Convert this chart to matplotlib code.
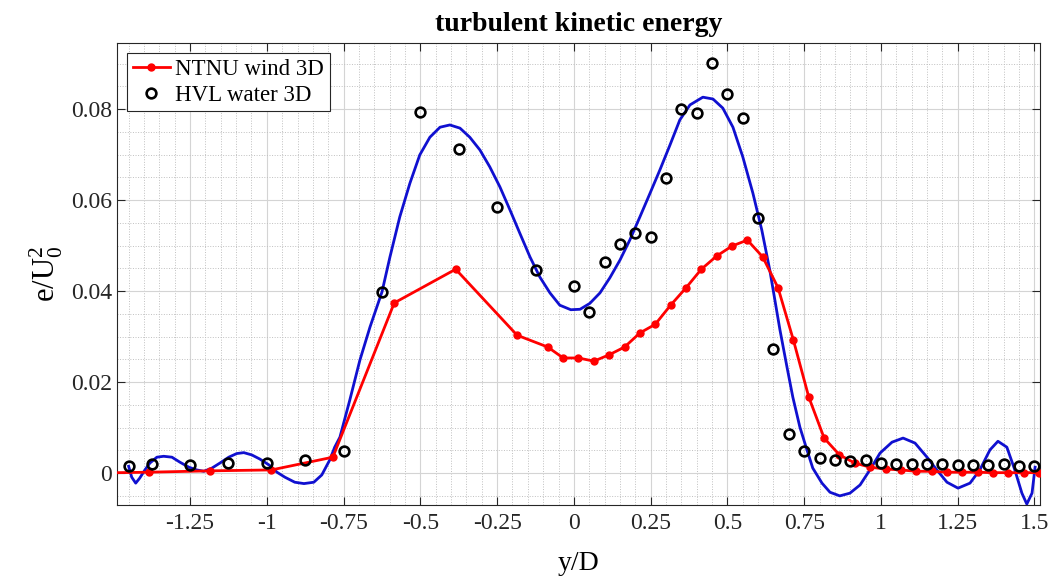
import numpy as np
import matplotlib
matplotlib.use('Agg')
import matplotlib.pyplot as plt
from matplotlib.ticker import MultipleLocator, FuncFormatter

plt.rcParams['font.family'] = ['Liberation Serif', 'DejaVu Serif']
plt.rcParams['mathtext.fontset'] = 'custom'
plt.rcParams['mathtext.rm'] = 'Liberation Serif'
plt.rcParams['mathtext.it'] = 'Liberation Serif:italic'
plt.rcParams['axes.unicode_minus'] = False

# NTNU wind tunnel, 3D downstream
ntnu_y = [-1.585, -1.385, -1.185, -0.985, -0.785, -0.585, -0.385, -0.185, -0.085, -0.035,
          0.015, 0.065, 0.115, 0.165, 0.215, 0.265, 0.315, 0.365, 0.415, 0.465,
          0.515, 0.565, 0.615, 0.665, 0.715, 0.765, 0.815, 0.865, 0.915, 0.965,
          1.015, 1.065, 1.115, 1.165, 1.215, 1.265, 1.315, 1.365, 1.415, 1.465, 1.515]
ntnu_e = [0.0, 0.0002, 0.0005, 0.0007, 0.0035, 0.0374, 0.0448, 0.0303, 0.0277, 0.0253,
          0.0253, 0.0246, 0.0260, 0.0277, 0.0308, 0.0327, 0.0369, 0.0407, 0.0448, 0.0477,
          0.0499, 0.0512, 0.0475, 0.0407, 0.0292, 0.0167, 0.0077, 0.0040, 0.0022, 0.0013,
          0.0009, 0.0007, 0.0004, 0.0004, 0.0002, 0.0002, 0.0002, 0.0001, 0.0001, 0.0001, 0.0001]

# HVL water channel, 3D downstream
hvl_y = [-1.45, -1.375, -1.25, -1.125, -1.0, -0.875, -0.75, -0.625, -0.5, -0.375,
         -0.25, -0.125, 0.0, 0.05, 0.1, 0.15, 0.2, 0.25, 0.3, 0.35,
         0.4, 0.45, 0.5, 0.55, 0.6, 0.65, 0.7, 0.75, 0.8, 0.85,
         0.9, 0.95, 1.0, 1.05, 1.1, 1.15, 1.2, 1.25, 1.3, 1.35,
         1.4, 1.45, 1.5]
hvl_e = [0.0015, 0.0020, 0.0018, 0.0022, 0.0022, 0.0029, 0.0048, 0.0398, 0.0793, 0.0712,
         0.0585, 0.0446, 0.0411, 0.0354, 0.0464, 0.0503, 0.0527, 0.0519, 0.0648, 0.0800,
         0.0791, 0.0901, 0.0833, 0.0780, 0.0560, 0.0273, 0.0086, 0.0048, 0.0033, 0.0029,
         0.0027, 0.0029, 0.0022, 0.0020, 0.0020, 0.0020, 0.0020, 0.0018, 0.0018, 0.0018,
         0.0020, 0.0015, 0.0015]

# fitted curve through the HVL data
fit_y = [-1.45, -1.44, -1.427, -1.414, -1.397, -1.381, -1.358, -1.336, -1.309, -1.283,
         -1.254, -1.228, -1.205, -1.179, -1.153, -1.124, -1.098, -1.075, -1.049, -1.023,
         -0.993, -0.967, -0.941, -0.909, -0.879, -0.847, -0.821, -0.795, -0.779, -0.762,
         -0.73, -0.697, -0.664, -0.625, -0.599, -0.567, -0.534, -0.502, -0.469, -0.436,
         -0.404, -0.371, -0.339, -0.306, -0.274, -0.241, -0.208, -0.176, -0.143, -0.111,
         -0.078, -0.046, -0.01, 0.02, 0.052, 0.085, 0.117, 0.15, 0.182, 0.215,
         0.248, 0.28, 0.313, 0.345, 0.378, 0.42, 0.453, 0.485, 0.518, 0.55,
         0.583, 0.612, 0.638, 0.671, 0.694, 0.713, 0.736, 0.759, 0.778, 0.808,
         0.834, 0.866, 0.899, 0.932, 0.964, 0.997, 1.036, 1.072, 1.111, 1.15,
         1.182, 1.215, 1.251, 1.29, 1.322, 1.355, 1.381, 1.41, 1.436, 1.459,
         1.475, 1.492, 1.502]
fit_e = [0.0015, -0.0009, -0.0022, -0.0011, 0.0007, 0.0022, 0.0035, 0.0037, 0.0035, 0.0024,
         0.0013, 0.0007, 0.0004, 0.0011, 0.0022, 0.0035, 0.0043, 0.0045, 0.0040, 0.0031,
         0.0018, 0.0002, -0.0009, -0.0020, -0.0023, -0.0020, -0.0004, 0.0029, 0.0057, 0.0079,
         0.0160, 0.0248, 0.0321, 0.0398, 0.0475, 0.0563, 0.0637, 0.0699, 0.0738, 0.0760,
         0.0765, 0.0758, 0.0738, 0.0710, 0.0673, 0.0629, 0.0578, 0.0527, 0.0475, 0.0431,
         0.0396, 0.0369, 0.0359, 0.0360, 0.0373, 0.0396, 0.0429, 0.0468, 0.0512, 0.0563,
         0.0615, 0.0666, 0.0721, 0.0776, 0.0809, 0.0826, 0.0822, 0.0802, 0.0760, 0.0695,
         0.0615, 0.0534, 0.0446, 0.0315, 0.0233, 0.0167, 0.0101, 0.0051, 0.0011, -0.0022,
         -0.0042, -0.0050, -0.0044, -0.0026, 0.0007, 0.0044, 0.0068, 0.0077, 0.0066, 0.0035,
         0.0007, -0.0020, -0.0033, -0.0022, 0.0007, 0.0051, 0.0070, 0.0057, 0.0007, -0.0044,
         -0.0068, -0.0044, 0.0013]

fig = plt.figure(figsize=(10.52, 5.76), dpi=100)
ax = fig.add_axes([0.1112, 0.1233, 0.8774, 0.802])

ax.plot(ntnu_y, ntnu_e, '-o', color='#ff0000', lw=2.0, ms=5, label='NTNU wind 3D', zorder=3)
ax.plot(hvl_y, hvl_e, 'o', mfc='none', mec='black', mew=1.9, ms=7, label='HVL water 3D', zorder=4)
ax.plot(fit_y, fit_e, '-', color='#1010d0', lw=2.0, zorder=2, solid_joinstyle='round')

ax.set_xlim(-1.488, 1.518)
ax.set_ylim(-0.007, 0.0945)
ax.xaxis.set_major_locator(MultipleLocator(0.25))
ax.xaxis.set_minor_locator(MultipleLocator(0.05))
ax.yaxis.set_major_locator(MultipleLocator(0.02))
ax.yaxis.set_minor_locator(MultipleLocator(0.005))
fmt = FuncFormatter(lambda v, p: '%g' % round(v, 4))
ax.xaxis.set_major_formatter(fmt)
ax.yaxis.set_major_formatter(fmt)

ax.grid(which='major', color='#d4d4d4', lw=0.8, ls='-')
ax.grid(which='minor', color='#c0c0c0', lw=0.7, ls=':')
ax.set_axisbelow(True)
ax.tick_params(which='both', direction='in', top=True, right=True, labelsize=17, colors='#262626')
ax.tick_params(which='major', length=6, width=0.8)
ax.tick_params(which='minor', length=0)
ax.tick_params(axis='x', pad=6)
for s in ax.spines.values():
    s.set_color('#262626')
    s.set_linewidth(0.8)

ax.set_title('turbulent kinetic energy', fontsize=20, fontweight='bold', pad=9)
ax.set_xlabel('y/D', fontsize=20, labelpad=12)
ax.set_ylabel(r'$\mathrm{e/U_0^2}$', fontsize=22, labelpad=4)

leg = ax.legend(loc='upper left', fontsize=16.5, frameon=True, fancybox=False,
                edgecolor='#262626', framealpha=1, borderpad=0.25, handlelength=1.6,
                handletextpad=0.25, labelspacing=0.2, borderaxespad=0.45)
leg.get_frame().set_linewidth(0.8)

fig.savefig('out.png', dpi=100)
